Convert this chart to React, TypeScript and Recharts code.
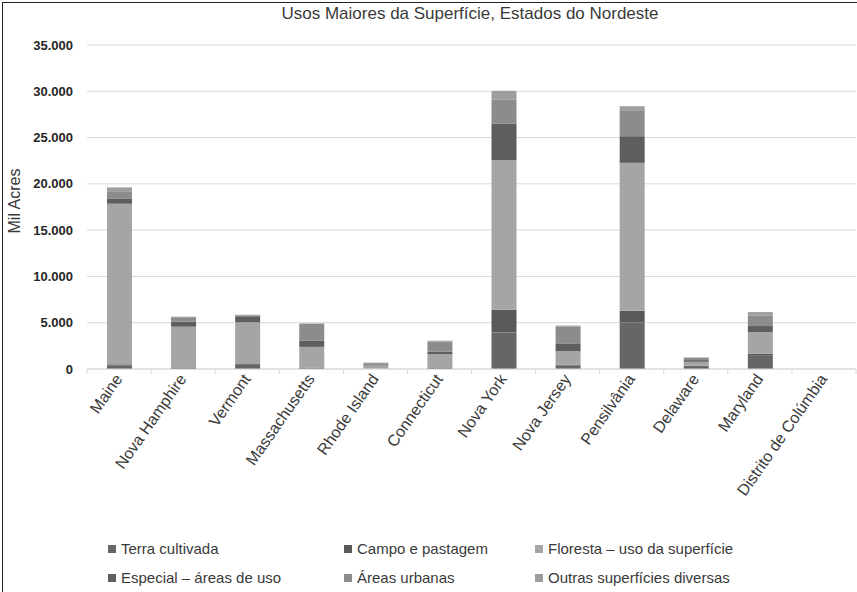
import React from "react"
import { BarChart, Bar, XAxis, YAxis, CartesianGrid, Legend } from "recharts"

const FONT = '"Liberation Sans", Arial, sans-serif'

const estados = [
  "Maine",
  "Nova Hamphire",
  "Vermont",
  "Massachusetts",
  "Rhode Island",
  "Connecticut",
  "Nova York",
  "Nova Jersey",
  "Pensilvânia",
  "Delaware",
  "Maryland",
  "Distrito de Colúmbia",
]

// mil acres
const terraCultivada = [400, 130, 450, 120, 20, 150, 3950, 400, 5030, 320, 1500, 0]
const campoPastagem = [100, 40, 100, 40, 10, 30, 2450, 70, 1260, 30, 160, 0]
const floresta = [17350, 4400, 4500, 2230, 330, 1430, 16170, 1440, 15980, 430, 2330, 0]
const especial = [580, 540, 650, 650, 50, 250, 3950, 800, 2880, 180, 650, 0]
const urbanas = [700, 400, 100, 1820, 220, 1100, 2560, 1900, 2730, 250, 1150, 0]
const outras = [490, 140, 50, 60, 60, 100, 970, 80, 510, 40, 360, 0]

const yTicks = [0, 5000, 10000, 15000, 20000, 25000, 30000, 35000]

const series = [
  { key: "terra", name: "Terra cultivada", values: terraCultivada, color: "#666666" },
  { key: "campo", name: "Campo e pastagem", values: campoPastagem, color: "#595959" },
  { key: "floresta", name: "Floresta – uso da superfície", values: floresta, color: "#a5a5a5" },
  { key: "especial", name: "Especial – áreas de uso", values: especial, color: "#5e5e5e" },
  { key: "urbanas", name: "Áreas urbanas", values: urbanas, color: "#8c8c8c" },
  { key: "outras", name: "Outras superfícies diversas", values: outras, color: "#9e9e9e" },
]

const data = estados.map((estado, i) => {
  const row: Record<string, string | number> = { estado }
  series.forEach((s) => {
    row[s.key] = s.values[i]
  })
  return row
})

const fmt = (v: number) => String(v).replace(/\B(?=(\d{3})+(?!\d))/g, ".")

function EstadoTick(props: any) {
  const { x, y, payload, index, width, visibleTicksCount } = props
  const half = width / visibleTicksCount / 2
  return (
    <g>
      <line x1={x - half} y1={y} x2={x - half} y2={y + 5} stroke="#d9d9d9" />
      {index === visibleTicksCount - 1 && (
        <line x1={x + half} y1={y} x2={x + half} y2={y + 5} stroke="#d9d9d9" />
      )}
      <text
        transform={`translate(${x + 4},${y + 10}) rotate(-55)`}
        textAnchor="end"
        fontSize={16}
        fontFamily={FONT}
        fill="#3a3a3a"
      >
        {payload.value}
      </text>
    </g>
  )
}

const legendCols = [108, 344, 535]

function LegendaGrade() {
  return (
    <div style={{ position: "relative", width: 857, height: 50, fontFamily: FONT, fontSize: 15, color: "#3a3a3a" }}>
      {series.map((s, i) => (
        <div
          key={s.key}
          style={{
            position: "absolute",
            left: legendCols[i % 3],
            top: i < 3 ? 2 : 31,
            display: "flex",
            alignItems: "center",
            whiteSpace: "nowrap",
          }}
        >
          <span style={{ display: "inline-block", width: 8, height: 8, background: s.color, marginRight: 5 }} />
          {s.name}
        </div>
      ))}
    </div>
  )
}

export default function App() {
  return (
    <div style={{ position: "absolute", left: 0, top: 0, width: 857, height: 592, background: "#fff" }}>
      <div
        style={{
          position: "absolute",
          left: 2,
          top: 2,
          right: -2,
          bottom: -2,
          borderLeft: "1.5px solid #222",
          borderTop: "1.5px solid #222",
        }}
      />
      <div
        style={{
          position: "absolute",
          left: 220,
          width: 500,
          top: 4,
          textAlign: "center",
          fontFamily: FONT,
          fontSize: 17,
          color: "#3a3a3a",
        }}
      >
        Usos Maiores da Superfície, Estados do Nordeste
      </div>
      <BarChart
        width={857}
        height={592}
        data={data}
        margin={{ top: 45, right: 1, left: 12, bottom: 0 }}
        barSize={25}
      >
        <CartesianGrid vertical={false} stroke="#d9d9d9" />
        <XAxis
          dataKey="estado"
          interval={0}
          height={223}
          tickLine={false}
          tickSize={0}
          tickMargin={0}
          axisLine={{ stroke: "#d9d9d9" }}
          tick={<EstadoTick />}
        />
        <YAxis
          width={75}
          domain={[0, 35000]}
          ticks={yTicks}
          tickFormatter={fmt}
          axisLine={false}
          tickLine={false}
          tickSize={6}
          tickMargin={8}
          tick={{ fontSize: 13, fontFamily: FONT, fill: "#262626", fontWeight: 600 }}
          label={{
            value: "Mil Acres",
            angle: -90,
            position: "insideLeft",
            offset: 2,
            dy: -6,
            style: { fontSize: 16, fontFamily: FONT, fill: "#3a3a3a", textAnchor: "middle" },
          }}
        />
        <Legend
          layout="horizontal"
          verticalAlign="middle"
          align="center"
          wrapperStyle={{ top: 538, left: 0, width: 857 }}
          content={<LegendaGrade />}
        />
        {series.map((s) => (
          <Bar
            key={s.key}
            dataKey={s.key}
            name={s.name}
            stackId="uso"
            fill={s.color}
            isAnimationActive={false}
          />
        ))}
      </BarChart>
    </div>
  )
}
